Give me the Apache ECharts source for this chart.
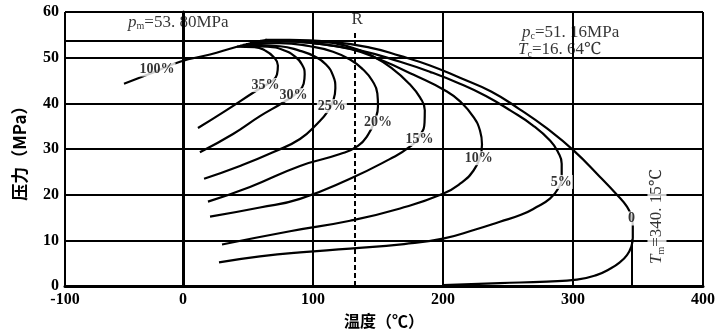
<!DOCTYPE html>
<html><head><meta charset="utf-8">
<script src="https://cdn.jsdelivr.net/npm/echarts@6/dist/echarts.min.js"></script>
<style>html,body{margin:0;padding:0;background:#fff}#c{width:718px;height:334px}</style>
</head><body><div id="c"></div>
<script>
// ---- data ----
const curveNames = ['100%','35%','30%','25%','20%','15%','10%','5%','0'];
const curve100 = [[-45.4,44.3],[-27,46.3],[-2.3,49.1],[20.8,50.7],[41.5,52.4],[64.6,53.9]];
const curve35 = [[11.5,34.6],[32.3,38.3],[55.4,42.6],[68,44.8],[72.3,46.3],[73,48.3],[69.5,50.2],[63,51.6],[55,52.3],[41.5,52.4]];
const curve30 = [[13,29.3],[38.5,33.3],[59.2,37.2],[77,40.2],[88,42.4],[92.8,44.3],[93.6,46.4],[91.5,48.5],[86,50.3],[77,51.7],[65,52.4],[43.8,52.6]];
const curve25 = [[16.2,23.5],[43.8,26.3],[69.2,29.3],[90,32.2],[103.8,35.7],[111.5,38.3],[115.8,40.8],[117.2,43.3],[115.5,46],[110,48.5],[101,50.3],[90,51.5],[74.6,52.5],[46,52.8]];
const curve20 = [[19.2,18.5],[51.5,21.7],[90,26.3],[120.8,28.9],[134.6,30.7],[142.5,33.2],[147.5,36.2],[150,39.4],[149.5,42.2],[145.5,45],[138.5,47.4],[128.5,49.6],[115.4,51.3],[97.7,52.5],[74.6,53.2],[48.5,53.0]];
const curve15 = [[20.8,15.2],[59.2,17.2],[90,19.1],[128.5,23.5],[159,27.8],[174,30.4],[182,32.9],[185.8,35.8],[186,38.5],[182.3,41.3],[174,44.3],[161,47.6],[146,50.3],[128,52.4],[105,53.4],[80,53.6],[51.5,53.3]];
const curve10 = [[30,9.1],[82.3,12],[128.5,14.3],[167,17],[200,20.2],[214,22.6],[223.5,25.3],[228.5,28.2],[230,31],[228.5,34],[223.5,37],[214,40.2],[203,42.6],[177,46.3],[151.5,49.6],[128.5,51.9],[100,53.2],[75,53.6],[55.4,53.5]];
const curve5 = [[27.7,5.2],[59.2,6.5],[90,7.4],[128.5,8.2],[170,9.2],[200,10.4],[225,12.4],[243.8,14.1],[260,15.6],[272,17.3],[282,19.1],[288.5,21.3],[291.3,24],[291.3,26.8],[288.5,29.3],[282.5,31.8],[269,35.2],[252,38.4],[233,41.6],[213,44.3],[190,46.9],[167,49.1],[136,51.6],[105,53],[74.6,53.7],[59.2,53.7]];
const curve0 = [[200,0.2],[243.8,0.65],[280,1],[303,1.4],[318,2.4],[328.5,3.8],[336,5.2],[341.5,6.8],[344.8,8.6],[346,10.6],[346,13.2],[344.5,15.5],[341.5,17.4],[333.8,20],[320.8,23.9],[300.8,29.6],[280,34.5],[259,38.7],[237,42.6],[213,45.6],[190,48.3],[167,50.4],[143.8,52.2],[113,53.5],[82,53.9],[63,53.9]];
const curves = [curve100, curve35, curve30, curve25, curve20, curve15, curve10, curve5, curve0];
const curveLabelAt = [[-20,47.4],[63.5,44],[85,41.8],[114.5,39.4],[150,35.8],[182,32.2],[227.5,28],[291,22.8],[345,14.8]];

const xTickLabels = ['-100','0','100','200','300','400'];
const yTickLabels = ['0','10','20','30','40','50','60'];
const X_MIN = -90.77, X_MAX = 400, Y_MIN = 0, Y_MAX = 60;

const pm = 53.80;      // MPa
const pmLineEnd = 200; // °C
const tmLine = 345.4;  // position of Tm marker on the picture
const tmTop = 10.2;
const rLine = 132.3;
const rTop = 55.8;

// ---- chart ----
const serif = '"Liberation Serif", "Noto Serif", serif';
const cjk = '"Noto Sans CJK SC", sans-serif';
const chart = echarts.init(document.getElementById('c'), null, {renderer:'canvas'});

const lineSeries = curves.map((d, i) => ({
  type: 'line', name: curveNames[i], data: d, smooth: 0.5, symbol: 'none',
  lineStyle: {color: '#000', width: 2.2}, z: 3, silent: true, animation: false
}));

const labelSeries = {
  type: 'scatter', symbolSize: 0, z: 10, silent: true, animation: false,
  data: curveLabelAt.map((p, i) => ({value: p, name: curveNames[i]})),
  label: {show: true, position: 'inside', formatter: '{b}', color: '#000',
    fontFamily: serif, fontSize: 14, fontWeight: 'bold', backgroundColor: '#fff', padding: [0, 1]}
};

const subRich = {
  i: {fontFamily: serif, fontStyle: 'italic', fontSize: 17, lineHeight: 19, color: '#000'},
  s: {fontFamily: serif, fontSize: 10, lineHeight: 10, verticalAlign: 'bottom', color: '#000'},
  n: {fontFamily: serif, fontSize: 17, lineHeight: 19, color: '#000'}
};
const annotations = [
  {value: [-42.3, 57.8], text: '{i|p}{s|m}{n|=53. 80MPa}', rotate: 0, align: 'left', bg: 'transparent'},
  {value: [260.8, 55.6], text: '{i|p}{s|c}{n|=51. 16MPa}', rotate: 0, align: 'left', bg: 'transparent'},
  {value: [257.7, 51.8], text: '{i|T}{s|c}{n|=16. 64℃}', rotate: 0, align: 'left', bg: 'transparent'},
  {value: [364.6, 15.2], text: '{i|T}{s|m}{n|=340. 15℃}', rotate: 90, align: 'center', bg: '#fff'},
  {value: [134.0, 58.3], text: '{n|R}', rotate: 0, align: 'center', bg: 'transparent'}
];
const annoSeries = {
  type: 'scatter', symbolSize: 0, z: 11, silent: true, animation: false,
  data: annotations.map(a => ({
    value: a.value,
    label: {show: true, position: 'inside', formatter: a.text, rotate: a.rotate,
      align: a.align, verticalAlign: 'middle',
      backgroundColor: a.bg, padding: a.rotate ? [0, 2] : 0, rich: subRich}
  })),
  markLine: {
    symbol: 'none', silent: true, animation: false, label: {show: false},
    lineStyle: {color: '#000', width: 2, type: 'solid'},
    data: [
      [{coord: [X_MIN, pm]}, {coord: [pmLineEnd, pm]}],
      [{coord: [tmLine, 0]}, {coord: [tmLine, tmTop]}],
      [{coord: [rLine, 0], lineStyle: {type: [5, 3]}}, {coord: [rLine, rTop]}]
    ]
  }
};

chart.setOption({
  animation: false,
  backgroundColor: '#fff',
  grid: {left: 65, right: 15, top: 12, bottom: 46},
  xAxis: {
    type: 'value', min: X_MIN, max: X_MAX, splitNumber: 5,
    name: '温度（℃）', nameLocation: 'middle', nameGap: 24,
    nameTextStyle: {fontFamily: cjk, fontSize: 16, fontWeight: 'bold', color: '#000'},
    axisLine: {show: true, lineStyle: {color: '#000', width: 3}},
    axisTick: {show: false},
    axisLabel: {color: '#000', fontFamily: serif, fontSize: 16, fontWeight: 'bold', margin: 6,
      formatter: v => v < -50 ? xTickLabels[0] : xTickLabels[Math.round(v / 100) + 1]},
    splitLine: {show: true, lineStyle: {color: '#000', width: 2}}
  },
  yAxis: {
    type: 'value', min: Y_MIN, max: Y_MAX, interval: 10,
    name: '压力（MPa）', nameLocation: 'middle', nameGap: 37, nameRotate: 90,
    nameTextStyle: {fontFamily: cjk, fontSize: 17, fontWeight: 'bold', color: '#000'},
    axisLine: {show: true, lineStyle: {color: '#000', width: 3}},
    axisTick: {show: false},
    axisLabel: {color: '#000', fontFamily: serif, fontSize: 16, fontWeight: 'bold', margin: 6,
      formatter: v => yTickLabels[Math.round(v / 10)]},
    splitLine: {show: true, lineStyle: {color: '#000', width: 2}}
  },
  series: [...lineSeries, labelSeries, annoSeries]
});
</script></body></html>
